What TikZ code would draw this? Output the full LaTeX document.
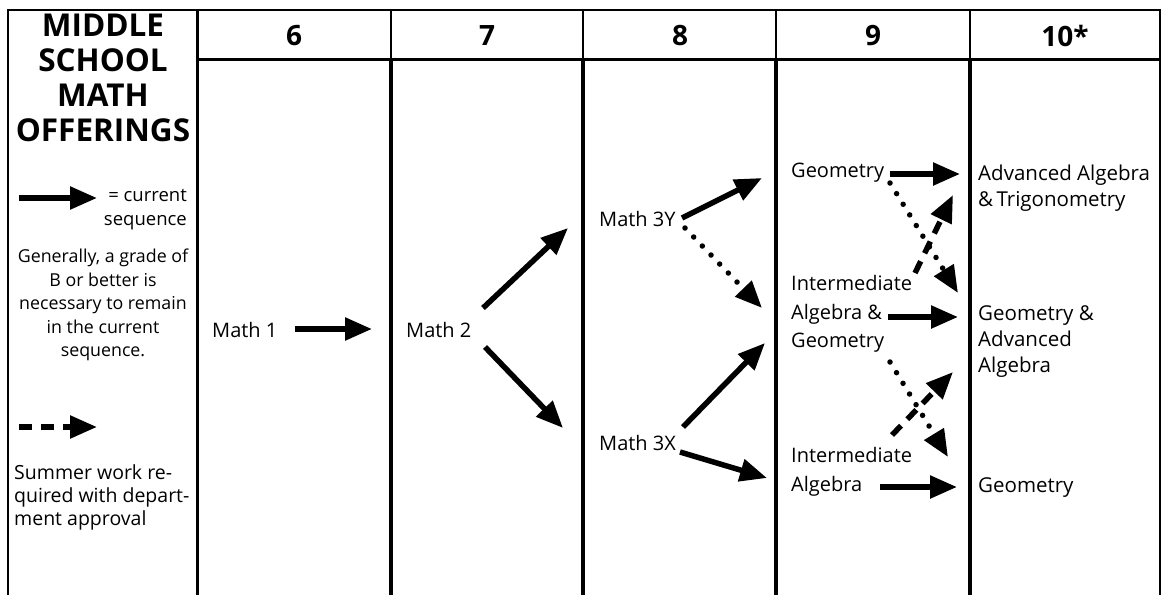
\documentclass[tikz,border=0pt]{standalone}
\usepackage{fontspec}
\setmainfont{Open Sans}
\usetikzlibrary{arrows.meta}
\begin{document}
\begin{tikzpicture}[x=1pt,y=-1pt,
  grid/.style={line width=2pt},
  thick grid/.style={line width=3pt},
  title/.style={font=\fontsize{31.5}{35}\selectfont\bfseries, align=center, inner sep=0pt},
  grade/.style={font=\fontsize{28}{30}\selectfont\bfseries, inner sep=0pt},
  legend/.style={font=\fontsize{17.8}{23.5}\selectfont, inner sep=0pt},
  course/.style={font=\fontsize{20}{28.5}\selectfont, align=left, anchor=west, inner sep=0pt},
  course10/.style={font=\fontsize{20.5}{26}\selectfont, align=left, anchor=west, inner sep=0pt},
  cur/.style={line width=5.5pt, -{Triangle[length=27pt,width=22pt]}},
  opt/.style={line width=5.5pt, line cap=round, dash pattern=on 0pt off 12.5pt, -{Triangle[length=27pt,width=22pt]}},
  summer/.style={line width=5.5pt, dash pattern=on 13pt off 9pt, -{Triangle[length=27pt,width=22pt]}}
]
\useasboundingbox (0,0) rectangle (1162,595);

% grid
\draw[grid] (8,10) -- (1160,10);
\draw[grid] (8,9) -- (8,595);
\draw[grid] (1160,9) -- (1160,595);
\draw[thick grid] (197,9) -- (197,595);
\draw[thick grid] (197,59) -- (1161,59);
\foreach \x in {391,583,776,970} {
  \draw[grid] (\x,10) -- (\x,59);
  \draw[line width=3.5pt] (\x,59) -- (\x,595);
}

% headings
\node[title] (title) at (103,78) {MIDDLE\\SCHOOL\\MATH\\OFFERINGS};
\node[grade] (g6) at (294,36) {6};
\node[grade] (g7) at (487,36) {7};
\node[grade] (g8) at (680,36) {8};
\node[grade] (g9) at (873,36) {9};
\node[grade] (g10) at (1065,36) {10*};

% legend
\coordinate (lcs) at (19,198);
\coordinate (lce) at (97,198);
\draw[cur] (lcs) -- (lce);
\node[legend, font=\fontsize{18.5}{24}\selectfont, align=right, anchor=east] (lcur) at (187,210) {= current\\sequence};
\node[legend, align=center] (lnote) at (103,305) {Generally, a grade of\\B or better is\\necessary to remain\\in the current\\sequence.};
\coordinate (lds) at (19,427);
\coordinate (lde) at (97,427);
\draw[summer] (lds) -- (lde);
\node[legend, font=\fontsize{19.5}{23}\selectfont, align=left, anchor=west] (lsum) at (14,497) {Summer work re-\\quired with depart-\\ment approval};

% courses
\node[course] (m1) at (212,330) {Math 1};
\node[course] (m2) at (406,330) {Math 2};
\node[course] (m3y) at (599,219) {Math 3Y};
\node[course] (m3x) at (599,443) {Math 3X};
\node[course] (geo9) at (791,173) {Geometry};
\node[course] (iag) at (791,314) {Intermediate\\Algebra \&\\Geometry};
\node[course] (ia) at (791,472) {Intermediate\\Algebra};
\node[course10] (aat) at (978,188) {Advanced Algebra\\\&\,Trigonometry};
\node[course10] (gaa) at (978,342) {Geometry \&\\Advanced\\Algebra};
\node[course10] (geo10) at (978,488) {Geometry};

% arrow end points
\coordinate (a1s) at (295,329);  \coordinate (a1e) at (372,329);
\coordinate (a2us) at (483,308); \coordinate (a2ue) at (568,228);
\coordinate (a2ds) at (485,347); \coordinate (a2de) at (563,428);
\coordinate (ayus) at (682,218); \coordinate (ayue) at (762,178);
\coordinate (ayds) at (685,228); \coordinate (ayde) at (762,308);
\coordinate (axus) at (683,427); \coordinate (axue) at (765,343);
\coordinate (axds) at (680,452); \coordinate (axde) at (767,478);
\coordinate (gs) at (890,174);   \coordinate (ge) at (960,174);
\coordinate (gds) at (890,183);  \coordinate (gde) at (958,293);
\coordinate (ms) at (888,317);   \coordinate (me) at (958,317);
\coordinate (mus) at (915,273);  \coordinate (mue) at (953,195);
\coordinate (mds) at (890,362);  \coordinate (mde) at (948,457);
\coordinate (bs) at (880,487);   \coordinate (be) at (957,487);
\coordinate (bus) at (892,435);  \coordinate (bue) at (953,372);

\draw[cur] (a1s) -- (a1e);
\draw[cur] (a2us) -- (a2ue);
\draw[cur] (a2ds) -- (a2de);
\draw[cur] (ayus) -- (ayue);
\draw[opt] (ayds) -- (ayde);
\draw[cur] (axus) -- (axue);
\draw[cur] (axds) -- (axde);
\draw[cur] (gs) -- (ge);
\draw[opt] (gds) -- (gde);
\draw[cur] (ms) -- (me);
\draw[summer] (mus) -- (mue);
\draw[opt] (mds) -- (mde);
\draw[cur] (bs) -- (be);
\draw[summer] (bus) -- (bue);
\end{tikzpicture}
\end{document}
